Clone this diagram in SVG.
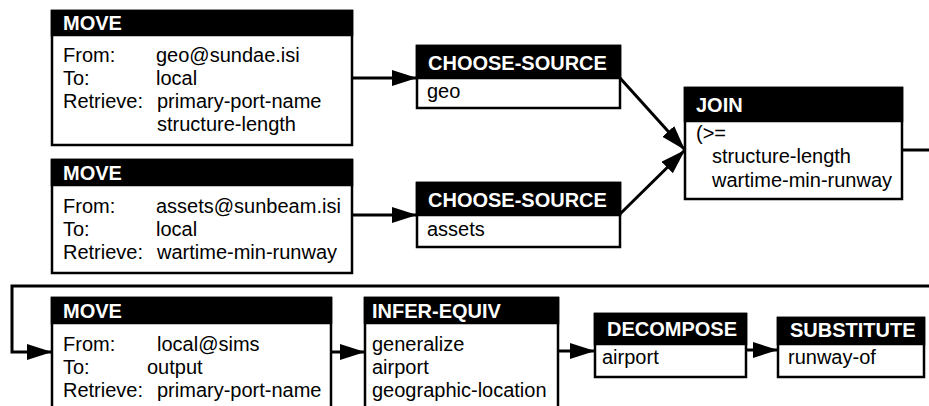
<svg xmlns="http://www.w3.org/2000/svg" width="929" height="406" viewBox="0 0 929 406">
<defs>
<marker id="ah" markerUnits="userSpaceOnUse" markerWidth="26" markerHeight="17" refX="25" refY="8" orient="auto"><path d="M0,0 L25,8 L0,16 z" fill="#000"/></marker>
</defs>
<style>
.box{fill:#fff;stroke:#000;stroke-width:2.5}
.hd{fill:#000;stroke:#000;stroke-width:2.5}
.ht{font-family:"Liberation Sans",Arial,sans-serif;font-size:20px;font-weight:bold;fill:#fff}
.bt{font-family:"Liberation Sans",Arial,sans-serif;font-size:20px;fill:#000}
.ln{fill:none;stroke:#000;stroke-width:3}
</style>
<rect width="929" height="406" fill="#fff"/>
<g id="connectors">
<path class="ln" d="M352 78 H417" marker-end="url(#ah)"/>
<path class="ln" d="M352 215 H417" marker-end="url(#ah)"/>
<path class="ln" d="M620 78 L685 150" marker-end="url(#ah)"/>
<path class="ln" d="M620 214 L685 150" marker-end="url(#ah)"/>
<path class="ln" d="M902 150 H930"/>
<path class="ln" d="M930 286 H12 V352 H52" marker-end="url(#ah)"/>
<path class="ln" d="M331 352 H365" marker-end="url(#ah)"/>
<path class="ln" d="M558 351 H595" marker-end="url(#ah)"/>
<path class="ln" d="M746 350 H778" marker-end="url(#ah)"/>
</g>
<g id="move1">
<rect class="box" x="52" y="11" width="300" height="134"/>
<rect class="hd" x="52" y="11" width="300" height="24"/>
<text class="ht" x="63" y="30">MOVE</text>
<text class="bt" x="63" y="62">From:</text><text class="bt" x="156" y="62">geo@sundae.isi</text>
<text class="bt" x="63" y="85">To:</text><text class="bt" x="156" y="85">local</text>
<text class="bt" x="63" y="108">Retrieve:</text><text class="bt" x="157" y="108">primary-port-name</text>
<text class="bt" x="157" y="131">structure-length</text>
</g>
<g id="move2">
<rect class="box" x="52" y="160" width="300" height="113"/>
<rect class="hd" x="52" y="160" width="300" height="25"/>
<text class="ht" x="63" y="180">MOVE</text>
<text class="bt" x="63" y="213">From:</text><text class="bt" x="156" y="213">assets@sunbeam.isi</text>
<text class="bt" x="63" y="236">To:</text><text class="bt" x="156" y="236">local</text>
<text class="bt" x="63" y="259">Retrieve:</text><text class="bt" x="157" y="259">wartime-min-runway</text>
</g>
<g id="choose1">
<rect class="box" x="417" y="46" width="203" height="62"/>
<rect class="hd" x="417" y="46" width="203" height="32"/>
<text class="ht" x="428" y="70">CHOOSE-SOURCE</text>
<text class="bt" x="427" y="98">geo</text>
</g>
<g id="choose2">
<rect class="box" x="417" y="183" width="203" height="64"/>
<rect class="hd" x="417" y="183" width="203" height="32"/>
<text class="ht" x="428" y="207">CHOOSE-SOURCE</text>
<text class="bt" x="427" y="236">assets</text>
</g>
<g id="join">
<rect class="box" x="685" y="88" width="217" height="111"/>
<rect class="hd" x="685" y="88" width="217" height="33"/>
<text class="ht" x="696" y="112">JOIN</text>
<text class="bt" x="696" y="140">(&gt;=</text>
<text class="bt" x="712" y="163">structure-length</text>
<text class="bt" x="712" y="187">wartime-min-runway</text>
</g>
<g id="move3">
<rect class="box" x="52" y="298" width="279" height="130"/>
<rect class="hd" x="52" y="298" width="279" height="25"/>
<text class="ht" x="63" y="318">MOVE</text>
<text class="bt" x="63" y="351">From:</text><text class="bt" x="157" y="351">local@sims</text>
<text class="bt" x="63" y="374">To:</text><text class="bt" x="147" y="374">output</text>
<text class="bt" x="63" y="397">Retrieve:</text><text class="bt" x="157" y="397">primary-port-name</text>
</g>
<g id="inferequiv">
<rect class="box" x="365" y="298" width="193" height="130"/>
<rect class="hd" x="365" y="298" width="193" height="25"/>
<text class="ht" x="372" y="318">INFER-EQUIV</text>
<text class="bt" x="372" y="351">generalize</text>
<text class="bt" x="372" y="374">airport</text>
<text class="bt" x="372" y="397">geographic-location</text>
</g>
<g id="decompose">
<rect class="box" x="595" y="314" width="151" height="63"/>
<rect class="hd" x="595" y="314" width="151" height="30"/>
<text class="ht" x="607" y="336">DECOMPOSE</text>
<text class="bt" x="602" y="364">airport</text>
</g>
<g id="substitute">
<rect class="box" x="778" y="318" width="146" height="59"/>
<rect class="hd" x="778" y="318" width="146" height="26"/>
<text class="ht" x="790" y="337">SUBSTITUTE</text>
<text class="bt" x="788" y="364">runway-of</text>
</g>
</svg>
